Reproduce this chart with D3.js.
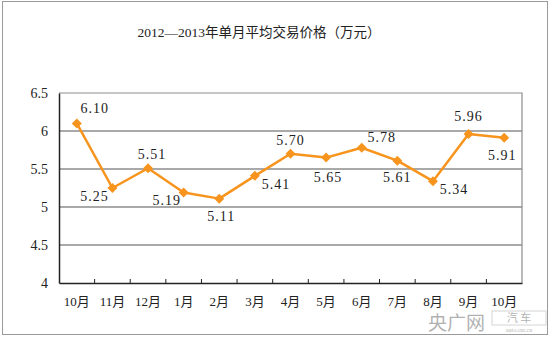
<!DOCTYPE html>
<html>
<head>
<meta charset="utf-8">
<script src="https://cdn.jsdelivr.net/npm/d3@7"></script>
<style>
  html, body { margin: 0; padding: 0; background: #fff; }
  svg { display: block; }
  text { font-family: "Liberation Serif", "Noto Sans CJK SC", serif; fill: #222; }
</style>
</head>
<body>
<svg id="chart" width="550" height="337"></svg>
<script>
// ---- data ----
const title = "2012—2013年单月平均交易价格（万元）";
const months = ["10月", "11月", "12月", "1月", "2月", "3月", "4月", "5月", "6月", "7月", "8月", "9月", "10月 "];
const prices = [6.10, 5.25, 5.51, 5.19, 5.11, 5.41, 5.70, 5.65, 5.78, 5.61, 5.34, 5.96, 5.91];
const yTicks = [4, 4.5, 5, 5.5, 6, 6.5];
const yTickLabels = ["4", "4.5", "5", "5.5", "6", "6.5"];

// ---- drawing ----
(function () {
const svg = d3.select("#chart");
const pLeft = 59, pRight = 522, pTop = 93, pBottom = 283;
const orange = "#F7941D";

// outer frame
svg.append("rect").attr("x", 2.5).attr("y", 1.5).attr("width", 545).attr("height", 333)
  .attr("fill", "none").attr("stroke", "#9a9a9a").attr("stroke-width", 1);

// title
svg.append("text").attr("x", 259).attr("y", 37).attr("text-anchor", "middle")
  .style("font-size", "13.5px").text(title);

const x = d3.scaleBand().domain(months).range([pLeft, pRight]);
const y = d3.scaleLinear().domain([4, 6.5]).range([pBottom, pTop]);

// gridlines
svg.append("g").selectAll("line").data(yTicks.filter(v => v > 4 && v < 6.5)).join("line")
  .attr("x1", pLeft).attr("x2", pRight)
  .attr("y1", d => y(d)).attr("y2", d => y(d))
  .attr("stroke", "#8c8c8c").attr("stroke-width", 1.6);

// top and right border of plot
svg.append("path")
  .attr("d", `M${pLeft},${y(6.5)}H${pRight}V${pBottom}`)
  .attr("fill", "none").attr("stroke", "#8c8c8c").attr("stroke-width", 1.2);

// y axis
const yAxis = d3.axisLeft(y).tickValues(yTicks).tickSize(0).tickPadding(11)
  .tickFormat((d, i) => yTickLabels[i]);
const gy = svg.append("g").attr("transform", `translate(${pLeft},0)`).call(yAxis);
gy.select(".domain").attr("stroke", "#222").attr("stroke-width", 1.5);
gy.selectAll("text").style("font-size", "14px").style("font-family", '"Liberation Serif", serif')
  .attr("fill", "#222").attr("dy", "0.35em");

// x axis
const xAxis = d3.axisBottom(x).tickSize(0).tickPadding(14);
const gx = svg.append("g").attr("transform", `translate(0,${pBottom})`).call(xAxis);
gx.select(".domain").attr("stroke", "#222").attr("stroke-width", 1.5);
gx.selectAll("text").style("font-size", "13px").attr("fill", "#222");

// x tick marks at band boundaries, pointing up
svg.append("g").selectAll("line").data(months.slice(1)).join("line")
  .attr("x1", d => x(d)).attr("x2", d => x(d))
  .attr("y1", pBottom).attr("y2", pBottom - 4)
  .attr("stroke", "#222").attr("stroke-width", 1);

// line
const pts = months.map((m, i) => ({ m, v: prices[i] }));
const line = d3.line().x(d => x(d.m) + x.bandwidth() / 2).y(d => y(d.v));
svg.append("path").datum(pts).attr("d", line)
  .attr("fill", "none").attr("stroke", orange).attr("stroke-width", 2.5)
  .attr("stroke-linejoin", "round");

// markers (square diamonds)
svg.append("g").selectAll("path").data(pts).join("path")
  .attr("d", d3.symbol(d3.symbolSquare, 50))
  .attr("transform", d => `translate(${x(d.m) + x.bandwidth() / 2},${y(d.v)}) rotate(45)`)
  .attr("fill", orange);

// label offsets (dx, dy) relative to each point
const labelOffsets = [[18, -10], [-18, 13], [4, -9], [-17, 12], [2, 22], [21, 13], [0, -9], [2, 24], [20, -6], [0, 21], [21, 13], [0, -13], [-2, 22]];
svg.append("g").selectAll("text").data(pts).join("text")
  .attr("x", (d, i) => x(d.m) + x.bandwidth() / 2 + labelOffsets[i][0])
  .attr("y", (d, i) => y(d.v) + labelOffsets[i][1])
  .attr("text-anchor", "middle")
  .style("font-size", "14px").style("letter-spacing", "1px")
  .text(d => d.v.toFixed(2));

// watermark
const wm = svg.append("g").attr("opacity", 0.35);
wm.append("text").attr("x", 428).attr("y", 330).style("font-size", "19px").attr("fill", "#888")
  .style("font-family", '"Noto Sans CJK SC", sans-serif').text("央广网");
wm.append("rect").attr("x", 492).attr("y", 311).attr("width", 54).attr("height", 14)
  .attr("fill", "none").attr("stroke", "#888");
wm.append("text").attr("x", 519).attr("y", 322).attr("text-anchor", "middle").style("font-size", "11px")
  .attr("fill", "#888").style("font-family", '"Noto Sans CJK SC", sans-serif').text("汽 车");
wm.append("text").attr("x", 519).attr("y", 332).attr("text-anchor", "middle").style("font-size", "6px")
  .attr("fill", "#888").text("auto.cnr.cn");
})();
</script>
</body>
</html>
